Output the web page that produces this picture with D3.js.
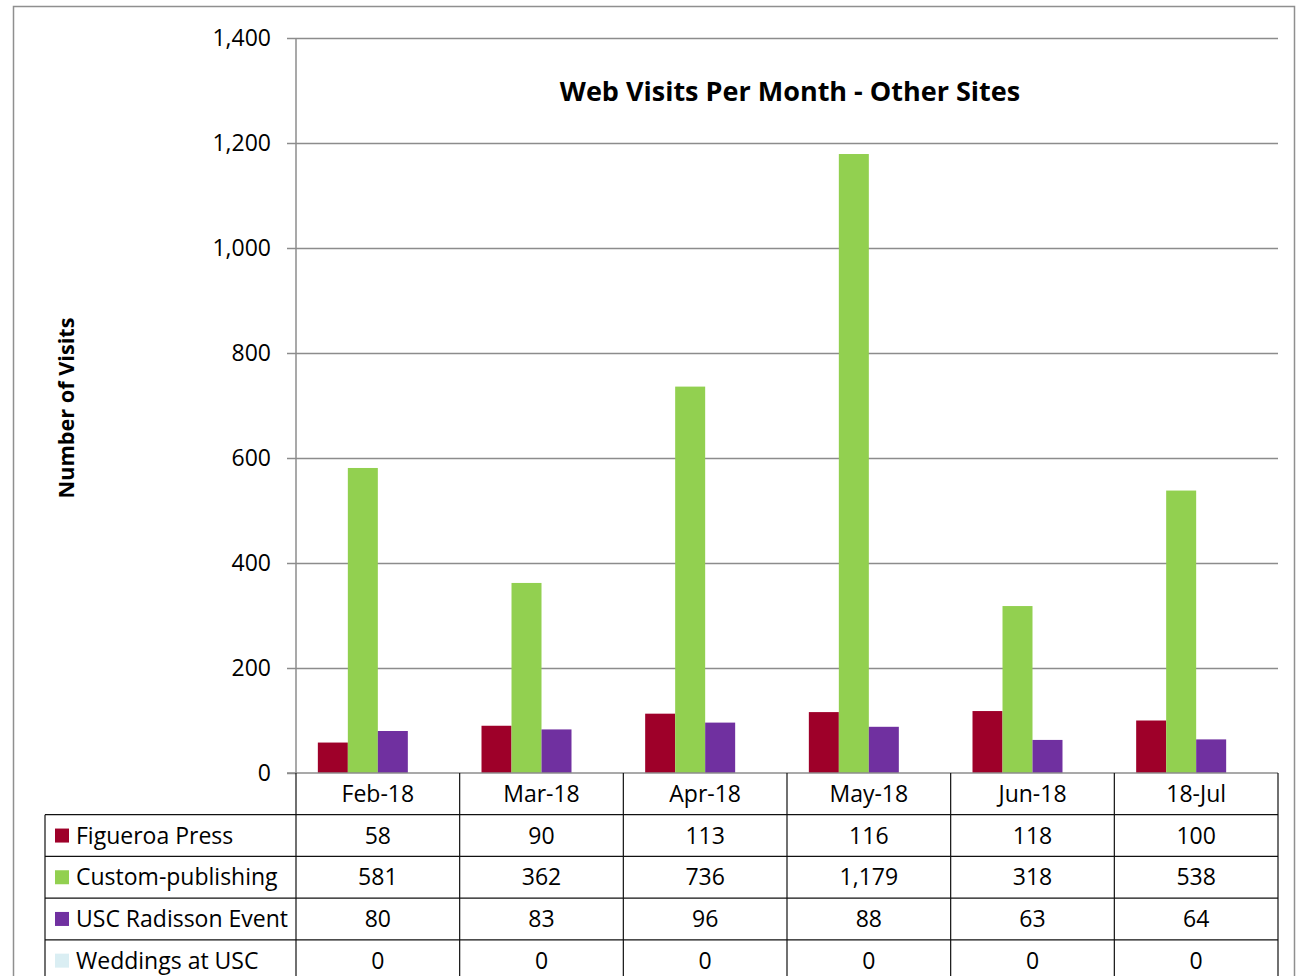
<!DOCTYPE html>
<html>
<head>
<meta charset="utf-8">
<script src="https://cdn.jsdelivr.net/npm/d3@7"></script>
<style>
  body { margin: 0; background: #fff; }
  svg { display: block; font-family: "Open Sans", sans-serif; }
</style>
</head>
<body>
<div id="chart"></div>
<script>
const months = ["Feb-18", "Mar-18", "Apr-18", "May-18", "Jun-18", "18-Jul"];
const seriesNames = ["Figueroa Press", "Custom-publishing", "USC Radisson Event", "Weddings at USC"];
const figueroa = [58, 90, 113, 116, 118, 100];
const customPub = [581, 362, 736, 1179, 318, 538];
const radisson = [80, 83, 96, 88, 63, 64];
const weddings = [0, 0, 0, 0, 0, 0];
const yTicks = [0, 200, 400, 600, 800, 1000, 1200, 1400];
const colors = ["#9E0029", "#92D050", "#7030A0", "#DAEEF3"];

const values = [figueroa, customPub, radisson, weddings];
const W = 1299, H = 976;
const plotL = 296, plotR = 1278, plotT = 38, plotB = 773;
const tableLeft = 45;
const rowH = 41.7;

const svg = d3.select("#chart").append("svg")
  .attr("width", W)
  .attr("height", H);

// outer frame
svg.append("path")
  .attr("d", `M13.5,${H} V6.5 H1294.5 V${H}`)
  .attr("fill", "none")
  .attr("stroke", "#8f8f8f")
  .attr("stroke-width", 1.5);

const x0 = d3.scaleBand().domain(months).range([plotL, plotR]);
const x1 = d3.scaleBand().domain(seriesNames)
  .range([0, x0.bandwidth()])
  .paddingOuter(0.728);
const y = d3.scaleLinear().domain([0, 1400]).range([plotB, plotT]);

// gridlines
svg.append("g")
  .attr("transform", `translate(${plotL},0)`)
  .call(d3.axisLeft(y).tickValues(yTicks.slice(1)).tickSize(-(plotR - plotL)).tickFormat(""))
  .call(g => g.select(".domain").remove())
  .call(g => g.selectAll("line").attr("stroke", "#8c8c8c").attr("stroke-width", 1.5));

// y axis
const yAxis = svg.append("g")
  .attr("transform", `translate(${plotL},0)`)
  .call(d3.axisLeft(y).tickValues(yTicks).tickSize(9).tickPadding(16).tickFormat(d3.format(",")));
yAxis.select(".domain").attr("stroke", "#8c8c8c").attr("stroke-width", 1.5).attr("d", `M0,${plotT}V${plotB}`);
yAxis.selectAll("line").attr("stroke", "#8c8c8c").attr("stroke-width", 1.5);
yAxis.selectAll("text").attr("font-size", 23).attr("fill", "#000")
  .attr("font-family", "Open Sans, sans-serif");

// bars
const groups = svg.append("g").selectAll("g")
  .data(months)
  .join("g")
  .attr("transform", d => `translate(${x0(d)},0)`);

groups.selectAll("rect")
  .data((m, i) => seriesNames.map((s, k) => ({ s, k, v: values[k][i] })))
  .join("rect")
  .attr("x", d => x1(d.s))
  .attr("width", x1.bandwidth())
  .attr("y", d => y(d.v))
  .attr("height", d => y(0) - y(d.v))
  .attr("fill", d => colors[d.k]);

// baseline
svg.append("line")
  .attr("x1", plotL - 9).attr("x2", plotR)
  .attr("y1", plotB).attr("y2", plotB)
  .attr("stroke", "#8c8c8c").attr("stroke-width", 1.5);

// title
svg.append("text")
  .attr("x", 790).attr("y", 101)
  .attr("text-anchor", "middle")
  .attr("font-size", 27).attr("font-weight", "bold")
  .text("Web Visits Per Month - Other Sites");

svg.append("text")
  .attr("transform", "translate(74,408) rotate(-90)")
  .attr("text-anchor", "middle")
  .attr("font-size", 21.7).attr("font-weight", "bold")
  .text("Number of Visits");

// data table
const rowY = d3.scaleBand().domain(seriesNames).range([plotB + rowH, plotB + rowH * 5]);
const table = svg.append("g");
const lineColor = "#111";

// header row month labels
table.selectAll(".month")
  .data(months)
  .join("text")
  .attr("x", d => x0(d) + x0.bandwidth() / 2)
  .attr("y", plotB + rowH / 2 + 8)
  .attr("text-anchor", "middle")
  .attr("font-size", 23)
  .text(d => d);

// vertical lines
const vx = months.map(m => x0(m) + x0.bandwidth());
table.selectAll(".vline")
  .data(vx)
  .join("line")
  .attr("x1", d => d).attr("x2", d => d)
  .attr("y1", plotB).attr("y2", H)
  .attr("stroke", lineColor).attr("stroke-width", 1.2);
table.append("line")
  .attr("x1", plotL).attr("x2", plotL)
  .attr("y1", plotB).attr("y2", H)
  .attr("stroke", lineColor).attr("stroke-width", 1.2);
table.append("line")
  .attr("x1", tableLeft).attr("x2", tableLeft)
  .attr("y1", plotB + rowH).attr("y2", H)
  .attr("stroke", lineColor).attr("stroke-width", 1.2);

// horizontal lines
table.selectAll(".hline")
  .data(seriesNames)
  .join("line")
  .attr("x1", tableLeft).attr("x2", plotR)
  .attr("y1", d => rowY(d)).attr("y2", d => rowY(d))
  .attr("stroke", lineColor).attr("stroke-width", 1.2);

const rows = table.selectAll(".row")
  .data(seriesNames)
  .join("g")
  .attr("transform", d => `translate(0,${rowY(d)})`);

rows.append("rect")
  .attr("x", 55).attr("y", rowH / 2 - 7)
  .attr("width", 14).attr("height", 14)
  .attr("fill", (d, k) => colors[k]);

rows.append("text")
  .attr("x", 76).attr("y", rowH / 2 + 8)
  .attr("font-size", 23)
  .text(d => d);

rows.selectAll(".val")
  .data((d, k) => values[k].map((v, i) => ({ v, m: months[i] })))
  .join("text")
  .attr("x", d => x0(d.m) + x0.bandwidth() / 2)
  .attr("y", rowH / 2 + 8)
  .attr("text-anchor", "middle")
  .attr("font-size", 23)
  .text(d => d3.format(",")(d.v));
</script>
</body>
</html>
